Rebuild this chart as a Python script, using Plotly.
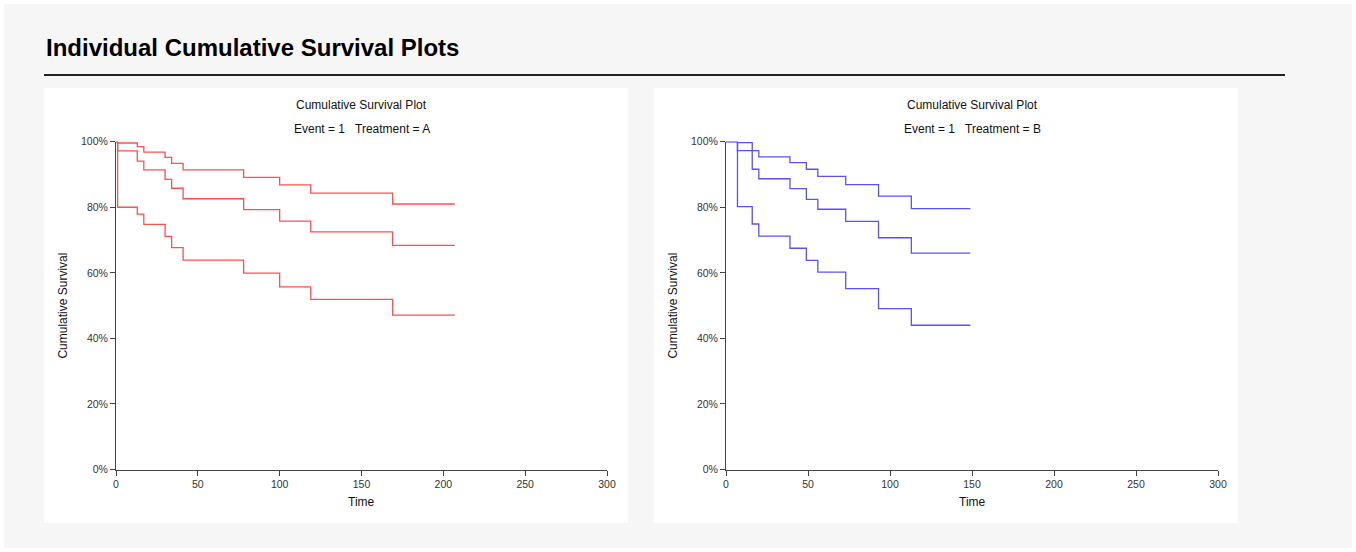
import plotly.graph_objects as go

# ---------------- data ----------------
# Treatment A (red): upper limit, survival estimate, lower limit
times_A = [0, 1, 13, 17, 30, 34, 41, 78, 100, 119, 169]
end_A = 207
upper_A = [100, 99.6, 98.5, 96.8, 95.2, 93.4, 91.4, 89.1, 86.8, 84.3, 81.0]
surv_A = [100, 97.2, 94.1, 91.4, 88.5, 85.8, 82.6, 79.3, 75.8, 72.5, 68.4]
lower_A = [100, 80.0, 77.9, 74.8, 71.1, 67.7, 63.9, 59.9, 55.7, 51.9, 47.1]

# Treatment B (blue)
times_B = [0, 7, 16, 20, 39, 49, 56, 73, 93, 113]
end_B = 149
upper_B = [100, 99.7, 97.3, 95.4, 93.6, 91.6, 89.4, 86.9, 83.4, 79.6]
surv_B = [100, 97.3, 91.6, 88.7, 85.7, 82.4, 79.4, 75.7, 70.7, 66.0]
lower_B = [100, 80.2, 74.9, 71.2, 67.5, 63.8, 60.2, 55.2, 49.1, 44.0]

x_ticks = [0, 50, 100, 150, 200, 250, 300]
y_ticks = [0, 20, 40, 60, 80, 100]
y_ticktext = [f"{v}%" for v in y_ticks]

page_title = "Individual Cumulative Survival Plots"
panel_title = "Cumulative Survival Plot"
subtitles = ["Event = 1\u00a0\u00a0\u00a0Treatment = A", "Event = 1\u00a0\u00a0\u00a0Treatment = B"]

RED = "#ff4f4f"
BLUE = "#5a4fff"
W, H = 1356, 552
FONT = "Liberation Sans, Arial, sans-serif"

fig = go.Figure()

def add_curves(times, end, series, color, xa, ya):
    for vals in series:
        fig.add_trace(go.Scatter(
            x=list(times) + [end], y=list(vals) + [vals[-1]],
            mode="lines", line=dict(color=color, width=1.3, shape="hv"),
            xaxis=xa, yaxis=ya, hoverinfo="skip", showlegend=False))

add_curves(times_A, end_A, [upper_A, surv_A, lower_A], RED, "x", "y")
add_curves(times_B, end_B, [upper_B, surv_B, lower_B], BLUE, "x2", "y2")

def px_x(p):
    return p / W

def px_y(p):
    return (H - p) / H

ydom = [px_y(469.5), px_y(141.7)]
xdomA = [px_x(116), px_x(607)]
xdomB = [px_x(726), px_x(1218)]

axis_common = dict(showline=True, linecolor="#444", linewidth=1, ticks="outside",
                   ticklen=5, tickcolor="#444", showgrid=False, zeroline=False,
                   tickfont=dict(family=FONT, size=10.5, color="#333"), fixedrange=True)

fig.update_layout(
    width=W, height=H, autosize=False,
    margin=dict(l=0, r=0, t=0, b=0, autoexpand=False),
    paper_bgcolor="white", plot_bgcolor="rgba(0,0,0,0)",
    xaxis=dict(domain=xdomA, range=[0, 300], tickvals=x_ticks, anchor="y", **axis_common),
    yaxis=dict(domain=ydom, range=[0, 100], tickvals=y_ticks, ticktext=y_ticktext, anchor="x", **axis_common),
    xaxis2=dict(domain=xdomB, range=[0, 300], tickvals=x_ticks, anchor="y2", **axis_common),
    yaxis2=dict(domain=ydom, range=[0, 100], tickvals=y_ticks, ticktext=y_ticktext, anchor="x2", **axis_common),
)

shapes = [dict(type="rect", xref="paper", yref="paper",
               x0=px_x(4), x1=px_x(1352), y0=px_y(548), y1=px_y(4),
               fillcolor="#f6f6f6", line=dict(width=0), layer="below")]
for x0, x1 in [(44, 628), (654, 1238)]:
    shapes.append(dict(type="rect", xref="paper", yref="paper",
                       x0=px_x(x0), x1=px_x(x1), y0=px_y(523), y1=px_y(88),
                       fillcolor="white", line=dict(width=0), layer="below"))
shapes.append(dict(type="line", xref="paper", yref="paper",
                   x0=px_x(44), x1=px_x(1285), y0=px_y(75), y1=px_y(75),
                   line=dict(color="#222", width=2)))
fig.update_layout(shapes=shapes)

ann = [dict(text=f"<b>{page_title}</b>", x=px_x(44), y=px_y(47), xref="paper", yref="paper",
            xanchor="left", yanchor="middle", showarrow=False,
            font=dict(family=FONT, size=24, color="black"))]
for cx, ax_x, sub in [((116 + 607) / 2, 63, subtitles[0]), ((726 + 1218) / 2, 673, subtitles[1])]:
    ann.append(dict(text=panel_title, x=px_x(cx), y=px_y(105), xref="paper", yref="paper",
                    xanchor="center", yanchor="middle", showarrow=False,
                    font=dict(family=FONT, size=12, color="#111")))
    ann.append(dict(text=sub, x=px_x(cx), y=px_y(129), xref="paper", yref="paper",
                    xanchor="center", yanchor="middle", showarrow=False,
                    font=dict(family=FONT, size=12, color="#111")))
    ann.append(dict(text="Time", x=px_x(cx), y=px_y(502), xref="paper", yref="paper",
                    xanchor="center", yanchor="middle", showarrow=False,
                    font=dict(family=FONT, size=12, color="#111")))
    ann.append(dict(text="Cumulative Survival", x=px_x(ax_x), y=px_y(305.6), xref="paper", yref="paper",
                    xanchor="center", yanchor="middle", showarrow=False, textangle=-90,
                    font=dict(family=FONT, size=12, color="#111")))
fig.update_layout(annotations=ann)

fig.write_html("out.html", config={"displayModeBar": False},
               post_script="document.body.style.margin='0px';")
